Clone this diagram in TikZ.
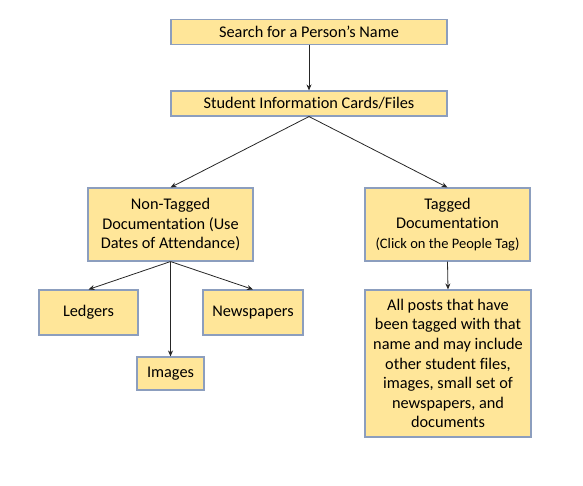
\documentclass[tikz,border=0pt]{standalone}
\usepackage{fontspec}
\setmainfont{Carlito}[RawFeature=-liga]
\usetikzlibrary{arrows.meta}
\definecolor{boxfill}{HTML}{FFE699}
\definecolor{boxline}{RGB}{140,158,190}
\tikzset{
  box/.style={draw=boxline, line width=1.1pt, fill=boxfill, inner sep=0pt, align=center,
    font=\fontsize{16.3}{19.6}\selectfont},
  conn/.style={draw=black!85, line width=0.8pt, -{Stealth[length=6pt,width=5pt]}}
}
\begin{document}
\begin{tikzpicture}[x=1pt,y=-1pt]
\useasboundingbox (0,0) rectangle (583,486);
\node[box, minimum width=276pt, minimum height=25pt] (n1) at (309,31.6) {Search for a Person’s Name};
\node[box, minimum width=276pt, minimum height=25pt] (n2) at (309,103.5) {Student Information Cards/Files};
\node[box, minimum width=165pt, minimum height=73pt] (n3) at (170.5,224.5) {Non-Tagged\\Documentation (Use\\Dates of Attendance)};
\node[box, minimum width=165pt, minimum height=73pt] (n4) at (447.5,224.5) {Tagged\\Documentation\\{\fontsize{14.5}{17}\selectfont (Click on the People Tag)}};
\node[box, minimum width=99pt, minimum height=45pt] (led) at (88.5,312.5) {Ledgers};
\node[box, minimum width=100pt, minimum height=45pt] (news) at (253,312.5) {Newspapers};
\node[box, minimum width=67pt, minimum height=33pt] (img) at (170.5,373.5) {Images};
\node[box, minimum width=166pt, minimum height=147pt] (big) at (448,363.5) {All posts that have\\been tagged with that\\name and may include\\other student files,\\images, small set of\\newspapers, and\\documents};
\draw[conn] (n1.south) -- (n2.north);
\draw[conn] (n2.south) -- (n3.north);
\draw[conn] (n2.south) -- (n4.north);
\draw[conn] (n3.south) -- (led.north);
\draw[conn] (n3.south) -- (news.north);
\draw[conn] (n3.south) -- (img.north);
\draw[conn] (n4.south) -- (big.north);
\end{tikzpicture}
\end{document}
